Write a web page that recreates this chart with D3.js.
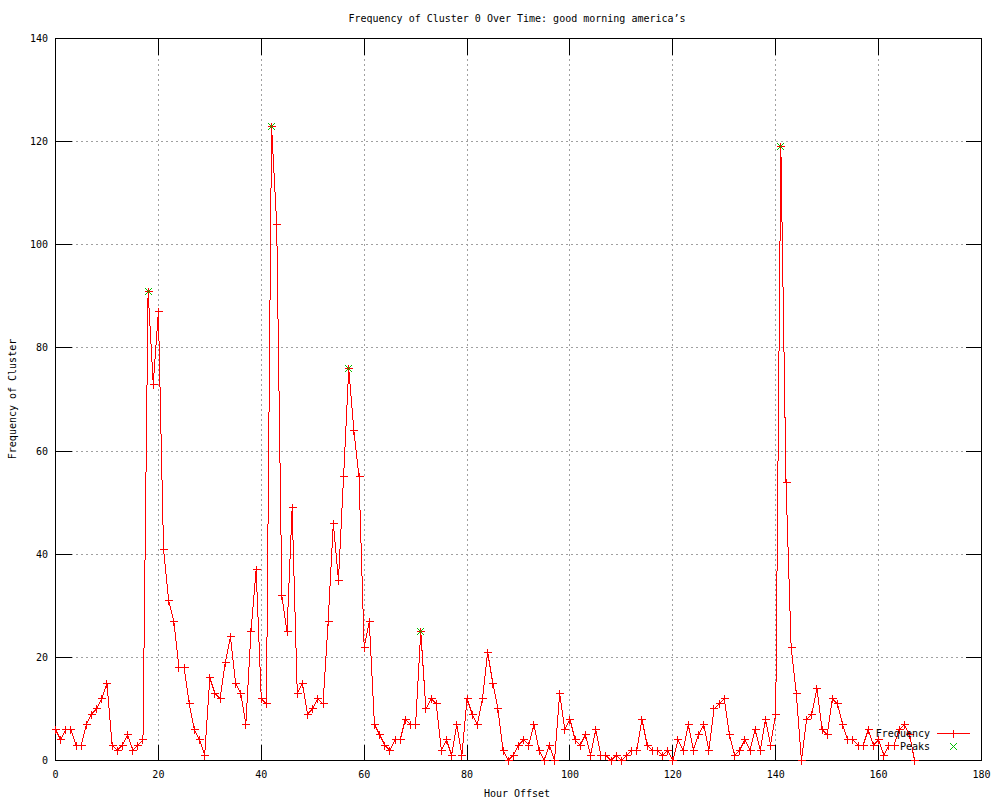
<!DOCTYPE html>
<html><head><meta charset="utf-8">
<script src="https://cdn.jsdelivr.net/npm/d3@7"></script>
<style>
body{margin:0;background:#fff;}
text{font-family:"DejaVu Sans Mono","Liberation Mono",monospace;font-size:10px;fill:#000;}
</style></head>
<body><svg id="c" width="1000" height="800"></svg>
<script>
const title = "Frequency of Cluster 0 Over Time: good morning america\u2019s";
const xLabel = "Hour Offset";
const yLabel = "Frequency of Cluster";
const xTicks = [0,20,40,60,80,100,120,140,160,180];
const yTicks = [0,20,40,60,80,100,120,140];
const frequency = [6,4,6,6,3,3,7,9,10,12,
15,3,2,3,5,2,3,4,91,73,
87,41,31,27,18,18,11,6,4,1,
16,13,12,19,24,15,13,7,25,37,
12,11,123,104,32,25,49,13,15,9,
10,12,11,27,46,35,55,76,64,55,
22,27,7,5,3,2,4,4,8,7,
7,25,10,12,11,2,4,1,7,1,
12,9,7,12,21,15,10,2,0,1,
3,4,3,7,2,0,3,0,13,6,
8,4,3,5,1,6,1,1,0,1,
0,1,2,2,8,3,2,2,1,2,
0,4,2,7,2,5,7,2,10,11,
12,5,1,2,4,2,6,2,8,3,
9,119,54,22,13,0,8,9,14,6,
5,12,11,7,4,4,3,3,6,3,
4,1,3,3,6,7,5,0];
const peakHours = [18,42,57,71,141];

const svg = d3.select("#c");
const x = d3.scaleLinear().domain([0,180]).range([55.5,981.5]);
const y = d3.scaleLinear().domain([0,140]).range([760.5,38.5]);
const L = x.range()[0], R = x.range()[1], B = y.range()[0], T = y.range()[1];
const tick = 16;

// grid
const g = svg.append("g").attr("shape-rendering","crispEdges");
g.selectAll(".gx").data(xTicks.slice(1,-1)).join("line")
  .attr("x1",d=>Math.round(x(d)-0.5)+0.5).attr("x2",d=>Math.round(x(d)-0.5)+0.5)
  .attr("y1",T).attr("y2",B).attr("stroke","#a0a0a0").attr("stroke-dasharray","2,3");
g.selectAll(".gy").data(yTicks.slice(1,-1)).join("line")
  .attr("y1",d=>Math.round(y(d)-0.5)+0.5).attr("y2",d=>Math.round(y(d)-0.5)+0.5)
  .attr("x1",L).attr("x2",R).attr("stroke","#a0a0a0").attr("stroke-dasharray","2,3");

// ticks (mirrored)
const tk = svg.append("g").attr("shape-rendering","crispEdges").attr("stroke","#000");
xTicks.forEach(d=>{
  const px = Math.round(x(d)-0.5)+0.5;
  tk.append("line").attr("x1",px).attr("x2",px).attr("y1",B).attr("y2",B-tick);
  tk.append("line").attr("x1",px).attr("x2",px).attr("y1",T).attr("y2",T+tick);
});
yTicks.forEach(d=>{
  const py = Math.round(y(d)-0.5)+0.5;
  tk.append("line").attr("y1",py).attr("y2",py).attr("x1",L).attr("x2",L+tick);
  tk.append("line").attr("y1",py).attr("y2",py).attr("x1",R).attr("x2",R-tick);
});
svg.append("rect").attr("x",L).attr("y",T).attr("width",R-L).attr("height",B-T)
  .attr("fill","none").attr("stroke","#000").attr("shape-rendering","crispEdges");

// tick labels
svg.selectAll(".xl").data(xTicks).join("text")
  .attr("x",d=>x(d)).attr("y",778).attr("text-anchor","middle").text(d=>d);
svg.selectAll(".yl").data(yTicks).join("text")
  .attr("x",48).attr("y",d=>y(d)+3.5).attr("text-anchor","end").text(d=>d);

// titles
svg.append("text").attr("x",517).attr("y",22).attr("text-anchor","middle").text(title);
svg.append("text").attr("x",517).attr("y",797).attr("text-anchor","middle").text(xLabel);
svg.append("text").attr("transform","translate(16,399) rotate(-90)").attr("text-anchor","middle").text(yLabel);

// data line
const line = d3.line().x((d,i)=>x(i)).y(d=>y(d));
svg.append("path").datum(frequency).attr("d",line).attr("fill","none")
  .attr("stroke","#ff0000").attr("stroke-width",1).attr("shape-rendering","crispEdges");

function plus(sel, cx, cy, col){
  sel.append("path").attr("d",`M${cx-4},${cy}H${cx+4}M${cx},${cy-4}V${cy+4}`)
    .attr("stroke",col).attr("fill","none").attr("shape-rendering","crispEdges");
}
function cross(sel, cx, cy, col){
  sel.append("path").attr("d",`M${cx-3.5},${cy-3.5}L${cx+3.5},${cy+3.5}M${cx-3.5},${cy+3.5}L${cx+3.5},${cy-3.5}`)
    .attr("stroke",col).attr("fill","none").attr("shape-rendering","crispEdges");
}
const pts = svg.append("g");
frequency.forEach((d,i)=>plus(pts, Math.round(x(i)-0.5)+0.5, Math.round(y(d)-0.5)+0.5, "#ff0000"));
const pk = svg.append("g");
peakHours.forEach(h=>cross(pk, Math.round(x(h)-0.5)+0.5, Math.round(y(frequency[h])-0.5)+0.5, "#00c000"));

// legend
svg.append("text").attr("x",930).attr("y",737).attr("text-anchor","end").text("Frequency");
svg.append("text").attr("x",930).attr("y",750).attr("text-anchor","end").text("Peaks");
svg.append("line").attr("x1",937).attr("x2",970).attr("y1",733.5).attr("y2",733.5)
  .attr("stroke","#ff0000").attr("shape-rendering","crispEdges");
plus(svg, 953.5, 733.5, "#ff0000");
cross(svg, 953.5, 746.5, "#00c000");
</script></body></html>
